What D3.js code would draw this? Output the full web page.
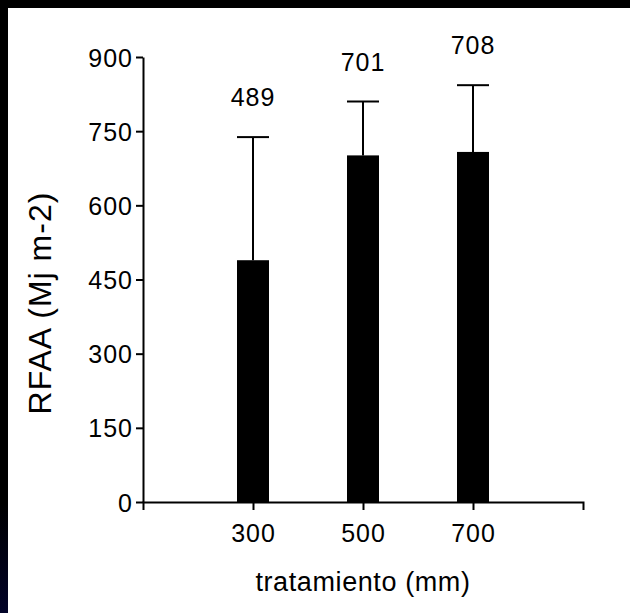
<!DOCTYPE html>
<html>
<head>
<meta charset="utf-8">
<script src="https://cdn.jsdelivr.net/npm/d3@7"></script>
<style>
  html, body { margin: 0; padding: 0; background: #fff; overflow: hidden; }
  svg { display: block; background: #fff; }
  svg text { font-family: "Liberation Sans", Arial, sans-serif; fill: #000; }
</style>
</head>
<body>
<div id="chart"></div>
<script>
// data
var categories = ["300", "500", "700"];
var means = [489, 701, 708];
var sdUp = [249, 109, 135];
var yTicks = [0, 150, 300, 450, 600, 750, 900];

var W = 630, H = 613;
var margin = {top: 57, right: 47, bottom: 111, left: 143};

var svg = d3.select("#chart").append("svg")
    .attr("width", W)
    .attr("height", H);

svg.append("rect").attr("width", W).attr("height", H).attr("fill", "#fff");

// dark frame on top / left (slide background showing through)
var defs = svg.append("defs");
var grad = defs.append("linearGradient")
    .attr("id", "edge")
    .attr("x1", 0).attr("y1", 0).attr("x2", 0).attr("y2", 1);
grad.append("stop").attr("offset", "0%").attr("stop-color", "#000");
grad.append("stop").attr("offset", "82%").attr("stop-color", "#000");
grad.append("stop").attr("offset", "100%").attr("stop-color", "#020328");

svg.append("rect").attr("x", 0).attr("y", 0).attr("width", W).attr("height", 8).attr("fill", "#000");
svg.append("rect").attr("x", 0).attr("y", 0).attr("width", 8).attr("height", H).attr("fill", "url(#edge)");

var x = d3.scalePoint()
    .domain(categories)
    .range([margin.left, W - margin.right])
    .padding(1);

var y = d3.scaleLinear()
    .domain([0, 900])
    .range([H - margin.bottom, margin.top]);

var barW = 32;

// bars
svg.append("g").selectAll("rect")
    .data(means)
    .enter().append("rect")
    .attr("x", function(d, i) { return x(categories[i]) - barW / 2; })
    .attr("y", function(d) { return y(d); })
    .attr("width", barW)
    .attr("height", function(d) { return y(0) - y(d); })
    .attr("fill", "#000");

// upper error bars
var err = svg.append("g").attr("stroke", "#000").attr("stroke-width", 2);
means.forEach(function(m, i) {
    var cx = x(categories[i]);
    err.append("line")
        .attr("x1", cx).attr("x2", cx)
        .attr("y1", y(m)).attr("y2", y(m + sdUp[i]));
    err.append("line")
        .attr("x1", cx - barW / 2).attr("x2", cx + barW / 2)
        .attr("y1", y(m + sdUp[i])).attr("y2", y(m + sdUp[i]));
});

// value labels
svg.append("g").selectAll("text")
    .data(means)
    .enter().append("text")
    .attr("x", function(d, i) { return x(categories[i]); })
    .attr("y", function(d, i) { return y(d + sdUp[i]) - 31; })
    .attr("text-anchor", "middle")
    .attr("font-size", 25)
    .attr("letter-spacing", 1)
    .text(function(d) { return d; });

// y axis
var yAxis = svg.append("g")
    .attr("transform", "translate(" + margin.left + ",0)")
    .call(d3.axisLeft(y).tickValues(yTicks).tickSize(7).tickSizeOuter(0).tickPadding(3));

// x axis, with end ticks at both ends
var xAxis = svg.append("g")
    .attr("transform", "translate(0," + y(0) + ")")
    .call(d3.axisBottom(x).tickSize(8).tickSizeOuter(8).tickPadding(14));

[yAxis, xAxis].forEach(function(a) {
    a.select(".domain").attr("stroke", "#000").attr("stroke-width", 2);
    a.selectAll(".tick line").attr("stroke", "#000").attr("stroke-width", 2);
    a.selectAll(".tick text")
        .attr("font-size", 25)
        .attr("letter-spacing", 1)
        .attr("font-family", "Liberation Sans, Arial, sans-serif")
        .attr("fill", "#000");
});
yAxis.selectAll(".tick text").attr("dy", "0.36em");

// axis titles
svg.append("text")
    .attr("x", x.range()[0] / 2 + (W - margin.right) / 2)
    .attr("y", H - 22)
    .attr("text-anchor", "middle")
    .attr("font-size", 27)
    .attr("letter-spacing", 0.6)
    .text("tratamiento (mm)");

svg.append("text")
    .attr("transform", "translate(51,303) rotate(-90)")
    .attr("text-anchor", "middle")
    .attr("font-size", 32)
    .attr("letter-spacing", 1)
    .text("RFAA (Mj m-2)");
</script>
</body>
</html>
